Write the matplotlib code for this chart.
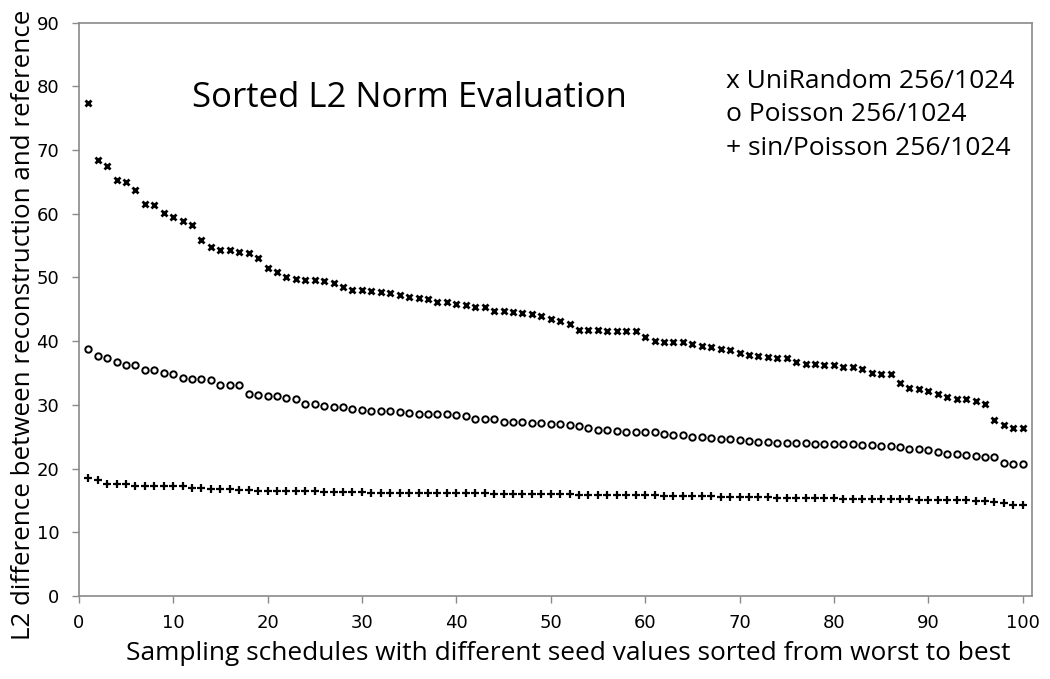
import matplotlib
matplotlib.use("Agg")
import matplotlib.pyplot as plt

schedules = list(range(1, 101))

uni_random = [77.4, 68.4, 67.5, 65.3, 65.0, 63.7, 61.5, 61.4, 60.2, 59.5,
              58.9, 58.2, 55.9, 54.8, 54.3, 54.3, 54.0, 53.8, 53.0, 51.5,
              50.8, 50.0, 49.7, 49.65, 49.6, 49.45, 49.2, 48.5, 48.1, 48.0,
              47.9, 47.75, 47.6, 47.3, 46.9, 46.85, 46.65, 46.2, 46.1, 45.8,
              45.7, 45.4, 45.3, 44.8, 44.8, 44.65, 44.5, 44.2, 43.95, 43.55,
              43.1, 42.65, 41.7, 41.7, 41.7, 41.6, 41.6, 41.6, 41.55, 40.6,
              40.1, 39.9, 39.9, 39.9, 39.6, 39.2, 39.1, 38.85, 38.6, 38.2,
              37.9, 37.6, 37.5, 37.3, 37.3, 36.7, 36.5, 36.45, 36.3, 36.2,
              36.0, 35.9, 35.65, 34.95, 34.9, 34.9, 33.5, 32.7, 32.5, 32.2,
              31.7, 31.3, 31.0, 31.0, 30.6, 30.2, 27.6, 26.8, 26.3, 26.3]

poisson = [38.8, 37.6, 37.4, 36.75, 36.2, 36.2, 35.5, 35.45, 35.0, 34.9,
           34.2, 34.0, 34.0, 33.9, 33.2, 33.1, 33.1, 31.7, 31.5, 31.4,
           31.35, 31.1, 30.9, 30.1, 30.1, 29.8, 29.7, 29.7, 29.4, 29.2,
           29.0, 29.0, 29.0, 28.9, 28.7, 28.65, 28.6, 28.6, 28.5, 28.45,
           28.2, 27.8, 27.8, 27.75, 27.35, 27.3, 27.3, 27.12, 27.12, 27.0,
           27.0, 26.9, 26.75, 26.4, 26.1, 26.0, 25.9, 25.8, 25.75, 25.7,
           25.7, 25.5, 25.35, 25.3, 24.95, 24.9, 24.85, 24.7, 24.6, 24.5,
           24.3, 24.25, 24.2, 24.05, 24.05, 23.95, 23.95, 23.9, 23.85, 23.85,
           23.8, 23.8, 23.7, 23.7, 23.6, 23.55, 23.35, 23.1, 23.1, 22.95,
           22.6, 22.3, 22.3, 22.2, 22.0, 21.8, 21.75, 20.85, 20.75, 20.7]

sin_poisson = [18.6, 18.2, 17.6, 17.6, 17.6, 17.3, 17.3, 17.25, 17.25, 17.2,
               17.2, 17.0, 17.0, 16.8, 16.75, 16.75, 16.7, 16.7, 16.55, 16.55,
               16.55, 16.55, 16.5, 16.45, 16.45, 16.4, 16.4, 16.4, 16.3, 16.3,
               16.25, 16.25, 16.25, 16.25, 16.25, 16.15, 16.15, 16.15, 16.1, 16.1,
               16.1, 16.1, 16.1, 16.05, 16.05, 16.05, 15.95, 16.0, 16.0, 16.0,
               15.95, 15.95, 15.9, 15.9, 15.9, 15.85, 15.85, 15.85, 15.85, 15.85,
               15.8, 15.75, 15.75, 15.75, 15.75, 15.7, 15.7, 15.6, 15.6, 15.6,
               15.5, 15.5, 15.5, 15.45, 15.45, 15.4, 15.4, 15.35, 15.35, 15.35,
               15.3, 15.3, 15.25, 15.25, 15.25, 15.2, 15.2, 15.2, 15.15, 15.15,
               15.1, 15.05, 15.05, 15.0, 14.95, 14.9, 14.8, 14.6, 14.3, 14.3]

x_ticks = [0, 10, 20, 30, 40, 50, 60, 70, 80, 90, 100]
y_ticks = [0, 10, 20, 30, 40, 50, 60, 70, 80, 90]
legend_lines = ["x UniRandom 256/1024", "o Poisson 256/1024", "+ sin/Poisson 256/1024"]

fig = plt.figure(figsize=(10.5, 6.79), dpi=100)
ax = fig.add_axes([0.075, 0.1222, 0.908, 0.8444])

ax.plot(schedules, uni_random, linestyle="none", marker="x", markersize=4.3,
        markeredgewidth=2.0, color="black")
ax.plot(schedules, poisson, linestyle="none", marker="o", markersize=4.6,
        markerfacecolor="none", markeredgewidth=1.4, markeredgecolor="black")
ax.plot(schedules, sin_poisson, linestyle="none", marker="+", markersize=5.5,
        markeredgewidth=1.6, color="black")

ax.set_xlim(0, 101)
ax.set_ylim(0, 90)
ax.set_xticks(x_ticks)
ax.set_yticks(y_ticks)
for s in ax.spines.values():
    s.set_color("#8a8a8a")
    s.set_linewidth(1.2)
ax.tick_params(axis="both", direction="out", length=5, width=1, color="#8a8a8a",
               labelsize=13, labelcolor="black")
ax.tick_params(axis="x", pad=8)
ax.tick_params(axis="y", pad=9)

sans = ["Open Sans", "DejaVu Sans"]
ax.text(0.3465, 0.8686, "Sorted L2 Norm Evaluation", transform=ax.transAxes,
        ha="center", va="center", fontsize=25, family=sans)
legend_y = [0.8966, 0.839, 0.7797]
for line, yy in zip(legend_lines, legend_y):
    ax.text(0.679, yy, line, transform=ax.transAxes,
            ha="left", va="center", fontsize=19, family=sans)

fig.text(0.5414, 0.038, "Sampling schedules with different seed values sorted from worst to best",
         ha="center", va="center", fontsize=18.9, family=sans)
fig.text(0.022, 0.522, "L2 difference between reconstruction and reference",
         ha="center", va="center", rotation=90, fontsize=18.6, family=sans)

fig.savefig("out.png", dpi=100)
